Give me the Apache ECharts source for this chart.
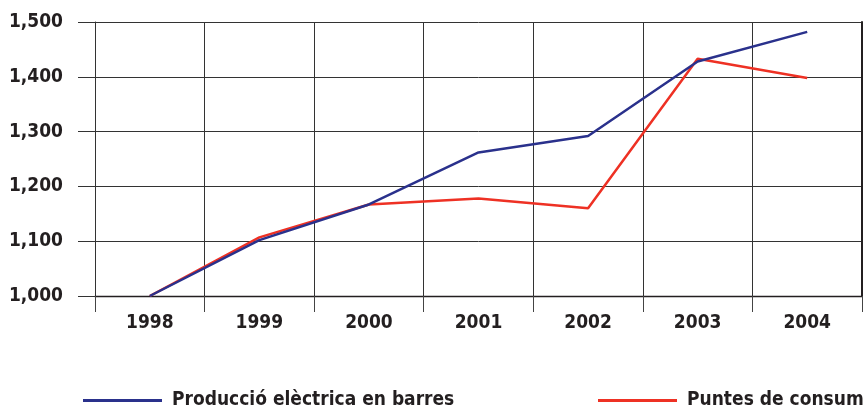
<!DOCTYPE html>
<html>
<head>
<meta charset="utf-8">
<script src="https://cdn.jsdelivr.net/npm/echarts@6/dist/echarts.min.js"></script>
<style>
  html, body { margin: 0; padding: 0; background: #fff; }
  #chart { width: 864px; height: 408px; }
</style>
</head>
<body>
<div id="chart"></div>
<script>
// Index values, 1998 = 1,000
const years = ['1998', '1999', '2000', '2001', '2002', '2003', '2004'];
const produccio = [1000, 1102, 1167, 1262, 1292, 1428, 1482];
const puntes = [1000, 1107, 1167, 1178, 1160, 1433, 1398];
const yTicks = { min: 1000, max: 1500, interval: 100 };

const FONT = '"DejaVu Sans Condensed", "Liberation Sans Narrow", sans-serif';
const INK = '#231f20';
const BLUE = '#2a318c';
const RED = '#ee3124';

const chart = echarts.init(document.getElementById('chart'), null, { renderer: 'canvas' });

const legendText = { fontFamily: FONT, fontWeight: 'bold', fontSize: 19, color: INK, padding: [0, 0, 0, 5] };

chart.setOption({
  animation: false,
  backgroundColor: '#fff',
  grid: { left: 95, right: 2, top: 22, bottom: 112, containLabel: false },
  legend: [
    {
      data: ['Producció elèctrica en barres'],
      left: 78, top: 386,
      icon: 'rect', itemWidth: 79, itemHeight: 3,
      textStyle: legendText
    },
    {
      data: ['Puntes de consum'],
      left: 593, top: 386,
      icon: 'rect', itemWidth: 79, itemHeight: 3,
      textStyle: legendText
    }
  ],
  xAxis: {
    type: 'category',
    data: years,
    boundaryGap: true,
    axisLine: { show: true, lineStyle: { color: INK, width: 1.3 } },
    axisTick: { show: true, length: 16, lineStyle: { color: '#444', width: 1 } },
    axisLabel: { margin: 18, fontFamily: FONT, fontWeight: 'bold', fontSize: 19, color: INK },
    splitLine: { show: true, lineStyle: { color: '#333', width: 1 } }
  },
  yAxis: [
    {
      type: 'value',
      min: yTicks.min, max: yTicks.max, interval: yTicks.interval,
      axisLine: { show: true, lineStyle: { color: '#333', width: 1 } },
      axisTick: { show: true, length: 17, lineStyle: { color: '#333', width: 1 } },
      axisLabel: {
        margin: 32, fontFamily: FONT, fontWeight: 'bold', fontSize: 19, color: INK,
        formatter: v => v.toLocaleString('en-US')
      },
      splitLine: { show: true, lineStyle: { color: '#333', width: 1 } }
    },
    {
      type: 'value', position: 'right',
      min: yTicks.min, max: yTicks.max, interval: yTicks.interval,
      axisLine: { show: true, lineStyle: { color: INK, width: 2 } },
      axisTick: { show: false }, axisLabel: { show: false }, splitLine: { show: false }
    }
  ],
  series: [
    {
      name: 'Producció elèctrica en barres',
      type: 'line', data: produccio, symbol: 'none',
      lineStyle: { color: BLUE, width: 2.5 }, itemStyle: { color: BLUE }, z: 3
    },
    {
      name: 'Puntes de consum',
      type: 'line', data: puntes, symbol: 'none',
      lineStyle: { color: RED, width: 2.5 }, itemStyle: { color: RED }, z: 2
    }
  ]
});
</script>
</body>
</html>
